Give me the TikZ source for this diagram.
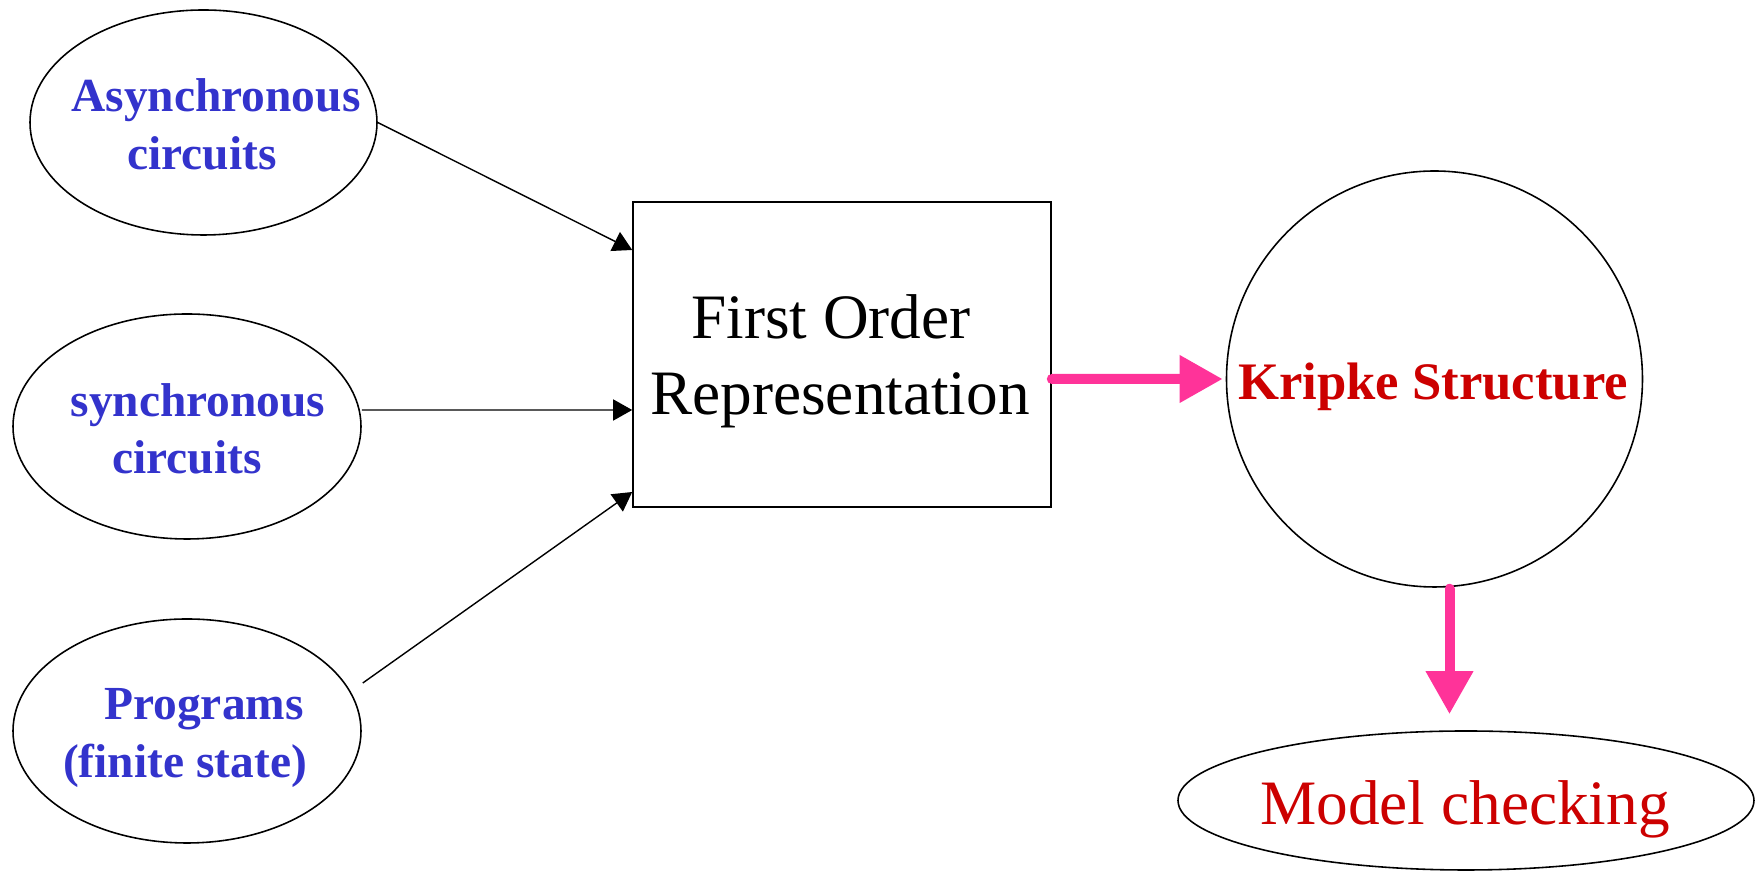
\documentclass[tikz,border=0pt]{standalone}
\usepackage{fontspec}
\setmainfont{Liberation Serif}
\usetikzlibrary{shapes.geometric,arrows.meta,calc}
\definecolor{txtblue}{HTML}{3333CC}
\definecolor{txtred}{HTML}{CC0000}
\definecolor{pinkarrow}{HTML}{FF3399}
\begin{document}
\begin{tikzpicture}[x=0.1mm,y=-0.1mm,
  shapeline/.style={draw=black,line width=0.45pt},
  oval/.style={shapeline,ellipse,inner sep=0pt},
  srclabel/.style={anchor=base,text=txtblue,font=\fontsize{13.5}{16}\selectfont\bfseries,inner sep=0pt},
  bigtext/.style={anchor=base,font=\fontsize{18}{21}\selectfont,inner sep=0pt},
  thinarrow/.style={line width=0.4pt,-{Triangle[length=1.9mm,width=2.1mm]}},
  fatarrow/.style={draw=pinkarrow,line width=1mm,line cap=round,-{Triangle[length=4.3mm,width=4.5mm]}}
]
\useasboundingbox (0,0) rectangle (1755,872);

% source ellipses
\node[oval,minimum width=34.7mm,minimum height=22.5mm] (e1) at (203.5,122.5) {};
\node[oval,minimum width=34.8mm,minimum height=22.5mm] (e2) at (187,426.5) {};
\node[oval,minimum width=34.8mm,minimum height=22.4mm] (e3) at (187,731) {};

\node[srclabel] (e1a) at (216,112) {Asynchronous};
\node[srclabel] (e1b) at (202,170) {circuits};
\node[srclabel] (e2a) at (198,417) {synchronous};
\node[srclabel] (e2b) at (187,474) {circuits};
\node[srclabel] (e3a) at (204,720) {Programs};
\node[srclabel] (e3b) at (185,778) {(finite state)};

% central box
\node[shapeline,rectangle,inner sep=0pt,minimum width=41.8mm,minimum height=30.5mm] (box) at (842,354.5) {};
\node[bigtext] (boxa) at (831,339) {First Order};
\node[bigtext] (boxb) at (840,415) {Representation};

% Kripke structure circle
\node[shapeline,circle,inner sep=0pt,minimum size=41.6mm] (ks) at (1434.5,379) {};
\node[anchor=base,inner sep=0pt,text=txtred,font=\fontsize{15}{18}\selectfont\bfseries] (kst) at (1433,400) {Kripke Structure};

% model checking ellipse
\node[oval,minimum width=57.6mm,minimum height=13.9mm] (mc) at (1466,800.5) {};
\node[bigtext,text=txtred] (mct) at (1465,825) {Model checking};

% thin arrows
\draw[thinarrow] (e1.east) -- ($(box.west)+(0,-104.5)$);
\draw[thinarrow] ($(e2.east)+(0,-16.5)$) -- ($(box.west)+(0,55.5)$);
\draw[thinarrow] ($(e3.east)+(1,-48)$) -- ($(box.west)+(0,137.5)$);

% pink arrows
\draw[fatarrow] ($(box.east)+(0,24.5)$) -- ($(ks.west)+(-3,0)$);
\coordinate (d0) at ($(ks.south)+(15,1)$);
\draw[fatarrow] (d0) -- ($(d0 |- mc.north)+(0,-16)$);
\end{tikzpicture}
\end{document}
